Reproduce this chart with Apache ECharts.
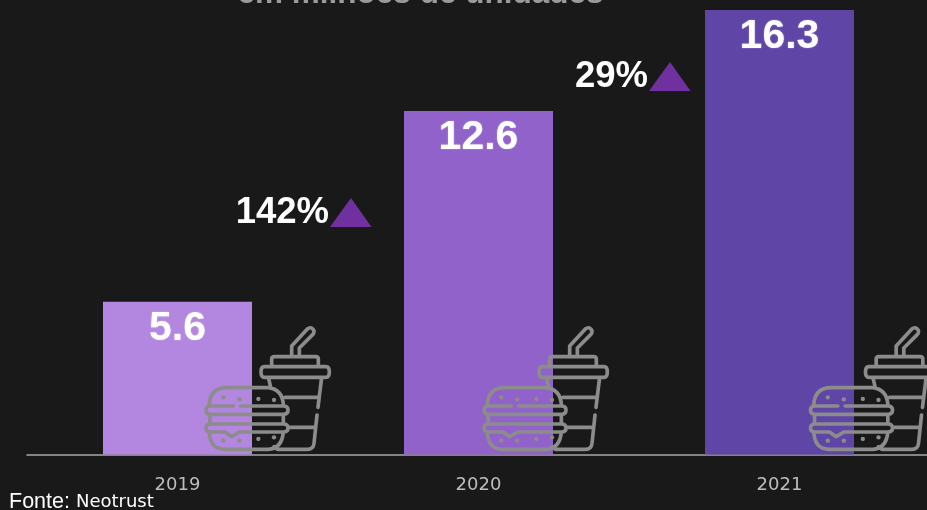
<!DOCTYPE html>
<html>
<head>
<meta charset="utf-8">
<style>html,body{margin:0;padding:0;background:#1a1919}#chart{width:927px;height:510px}</style>
<script src="https://cdn.jsdelivr.net/npm/echarts@6/dist/echarts.min.js"></script>
</head>
<body>
<div id="chart"></div>
<script>
// Annual volumes, in millions of units
const years = ['2019', '2020', '2021'];
const units = [5.6, 12.6, 16.3];
const barColors = ['#b386df', '#9162ca', '#5f45a6'];
const growthLabels = ['142%', '29%'];
const titleText = 'em milhões de unidades';
const sourceLabel = 'Fonte: ';
const sourceName = 'Neotrust';

// Horizontal shift of the food icon from each bar's centre
const iconShift = [22.5, -0.5, 25];

// Outline of a drink and a burger, drawn on a 3:1 grid
const iconPath = [
  // straw
  'M275 105 L275 78 L322 27 Q333 18 341 30 Q344 38 338 44 L298 84 L298 105',
  // lid
  'M215 140 L215 118 Q215 110 223 110 L347 110 Q355 110 355 118 L355 140',
  'M193 140 L378 140 Q388 140 388 156 Q388 172 378 172 L193 172 Q183 172 183 156 Q183 140 193 140 Z',
  // cup body
  'M205 172 L213 205',
  'M365 172 L354 262',
  'M351 285 L342 370 Q340 388 322 388 L232 388 L222 380',
  'M255 232 L352 232',
  'M265 322 L345 322',
  // top bun
  'M28 252 Q32 203 80 203 L205 203 Q246 208 250 252',
  // upper filling
  'M100 258 L32 258 Q18 258 18 270 Q18 283 32 283 L250 283 Q264 283 264 270 Q264 258 250 258 L122 258',
  'M30 283 L30 312 M250 283 L250 312',
  // lower filling
  'M32 312 L250 312 Q264 312 264 324 Q264 336 250 336 L118 336 L95 350 L75 336 L32 336 Q18 336 18 324 Q18 312 32 312 Z',
  // bottom bun
  'M28 336 Q30 388 75 388 L205 388 Q246 385 250 336'
].join(' ');
const seeds = [[70, 232], [118, 238], [175, 237], [222, 240], [70, 362], [118, 362], [175, 357], [222, 352]];

const chart = echarts.init(document.getElementById('chart'));
chart.setOption({
  backgroundColor: '#1a1919',
  animation: false,
  title: {
    text: titleText,
    left: 415.5,
    textAlign: 'center',
    top: -26,
    textStyle: { color: '#9b9b9b', fontSize: 31.5, fontWeight: 'bold', fontFamily: 'Liberation Sans', lineHeight: 31 }
  },
  grid: { left: 27, width: 903, top: 0, height: 454.5, outerBoundsMode: 'none' },
  xAxis: {
    type: 'category',
    data: years,
    axisTick: { show: false },
    axisLine: { lineStyle: { color: '#a8a8a8', width: 1.5 } },
    axisLabel: { color: '#bdbdbd', fontSize: 18, fontFamily: 'DejaVu Sans', margin: 22 }
  },
  yAxis: { type: 'value', min: 0, max: 16.67, show: false, splitLine: { show: false } },
  series: [
    {
      type: 'bar',
      barWidth: 149,
      data: units.map((v, i) => ({ value: v, itemStyle: { color: barColors[i] } })),
      label: {
        show: true,
        position: 'insideTop',
        distance: 6,
        formatter: p => p.value.toFixed(1),
        color: '#ffffff',
        fontSize: 41,
        fontWeight: 'bold',
        fontFamily: 'Liberation Sans',
        textShadowColor: 'rgba(255,255,255,0.4)',
        textShadowBlur: 2
      }
    },
    {
      type: 'custom',
      silent: true,
      z: 5,
      data: years.map((y, i) => [i, 0]),
      encode: { x: 0, y: 1 },
      renderItem: (params, api) => {
        const base = api.coord([api.value(0), 0]);
        const stroke = { fill: null, stroke: '#8c8c8c', lineWidth: 11, lineCap: 'round', lineJoin: 'round' };
        const children = [{ type: 'path', shape: { pathData: iconPath }, style: stroke }];
        seeds.forEach(s => children.push({
          type: 'circle',
          shape: { cx: s[0], cy: s[1], r: 6.5 },
          style: { fill: '#8c8c8c' }
        }));
        return {
          type: 'group',
          x: base[0] + iconShift[params.dataIndex],
          y: base[1] - 134.5,
          scaleX: 1 / 3,
          scaleY: 1 / 3,
          children
        };
      }
    }
  ],
  graphic: [
    { type: 'text', x: 329, y: 213, style: { text: growthLabels[0], fill: '#fff', font: 'bold 36.5px "Liberation Sans"', textAlign: 'right', textVerticalAlign: 'middle' } },
    { type: 'polygon', shape: { points: [[351, 198], [371.5, 227], [330, 227]] }, style: { fill: '#7030a0' } },
    { type: 'text', x: 648, y: 77, style: { text: growthLabels[1], fill: '#fff', font: 'bold 36.5px "Liberation Sans"', textAlign: 'right', textVerticalAlign: 'middle' } },
    { type: 'polygon', shape: { points: [[670, 62], [690.5, 91], [649, 91]] }, style: { fill: '#7030a0' } },
    {
      type: 'text',
      x: 9,
      y: 513,
      style: {
        text: '{a|' + sourceLabel + '}{b|' + sourceName + '}',
        textVerticalAlign: 'bottom',
        rich: {
          a: { fill: '#ffffff', color: '#ffffff', fontSize: 21.5, fontFamily: 'Liberation Sans' },
          b: { fill: '#ffffff', color: '#ffffff', fontSize: 18, fontFamily: 'DejaVu Sans' }
        }
      }
    }
  ]
});
</script>
</body>
</html>
